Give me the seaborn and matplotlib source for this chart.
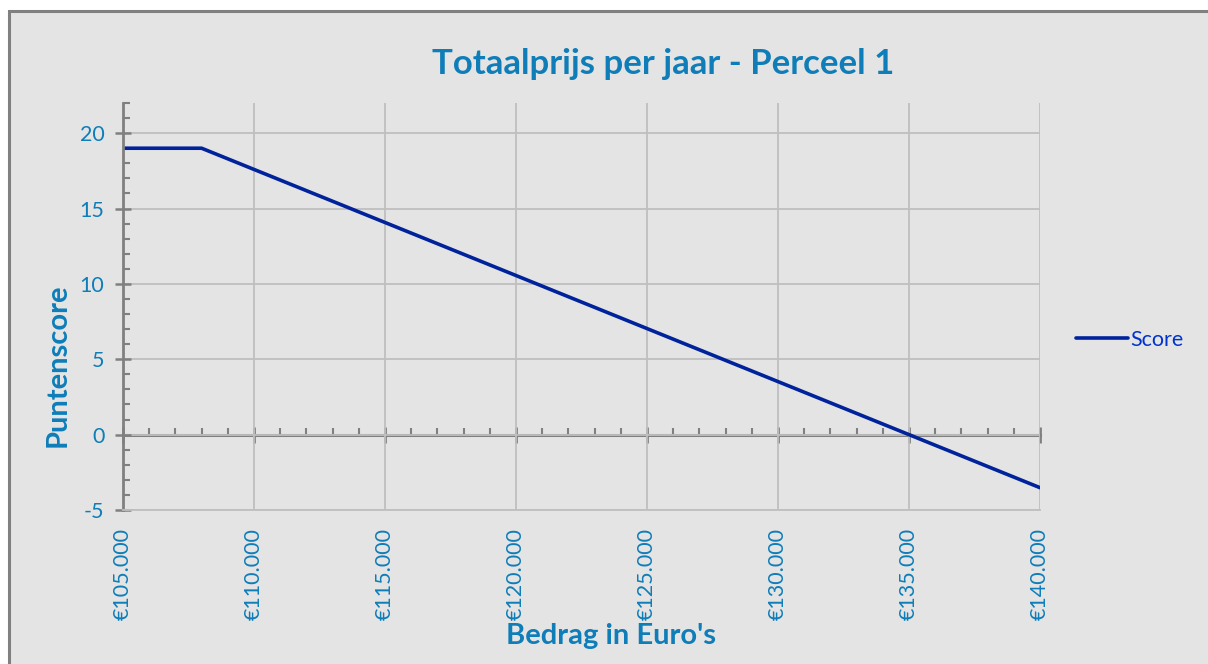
import matplotlib
matplotlib.use("Agg")
import matplotlib.pyplot as plt
import seaborn as sns
import pandas as pd
from matplotlib.patches import Rectangle
from matplotlib.ticker import MultipleLocator, FuncFormatter

amounts = [105000, 108000, 135000, 140000]
scores = [19, 19, 0, -3.52]
series_name = "Score"
title = "Totaalprijs per jaar - Perceel 1"
xlabel = "Bedrag in Euro's"
ylabel = "Puntenscore"

sns.set_style("white")
plt.rcParams['font.family'] = ['Lato', 'DejaVu Sans']
plt.rcParams['axes.unicode_minus'] = False

BG = "#E4E4E4"
BLUE_TXT = "#0E7DB8"
LINE = "#00239C"
AX_GRAY = "#808080"
GRID = "#BFBFBF"

fig = plt.figure(figsize=(12.08, 6.64), dpi=100)
fig.patch.set_facecolor("white")
fig.patches.append(Rectangle((9/1208, -0.1), 1.2, 1 - 11/664 + 0.1,
                             transform=fig.transFigure, facecolor=BG,
                             edgecolor=AX_GRAY, linewidth=2.2, zorder=-10))

ax = fig.add_axes([123/1208, 1 - 510/664, (1040 - 123)/1208, (510 - 103)/664])
ax.set_facecolor(BG)

df = pd.DataFrame({"Bedrag": amounts, "Score": scores})
sns.lineplot(data=df, x="Bedrag", y="Score", ax=ax, color=LINE, linewidth=2.6,
             label=series_name)

ax.set_xlim(105000, 140000)
ax.set_ylim(-5, 22)
ax.xaxis.set_major_locator(MultipleLocator(5000))
ax.set_yticks([-5, 0, 5, 10, 15, 20])
ax.yaxis.set_minor_locator(MultipleLocator(1))
ax.xaxis.set_major_formatter(FuncFormatter(lambda v, p: "€" + f"{int(v):,}".replace(",", ".")))
ax.grid(True, which="major", color=GRID, linewidth=1.3)
ax.set_axisbelow(True)

for s in ["top", "right"]:
    ax.spines[s].set_visible(False)
ax.spines["bottom"].set_color(GRID)
ax.spines["bottom"].set_linewidth(1.3)
ax.spines["left"].set_color(AX_GRAY)
ax.spines["left"].set_linewidth(2)

ax.tick_params(axis="x", which="both", bottom=False, length=0, pad=13, labelrotation=90,
               labelsize=15.5, labelcolor=BLUE_TXT)
ax.tick_params(axis="y", which="major", left=True, direction="inout", length=11, width=1.8,
               color=AX_GRAY, labelsize=15.5, labelcolor=BLUE_TXT, pad=8)
ax.tick_params(axis="y", which="minor", left=True, direction="in", length=5, width=1.5,
               color=AX_GRAY)

# zero axis with ticks
sec = ax.secondary_xaxis(5/27)
sec.xaxis.set_major_locator(MultipleLocator(5000))
sec.xaxis.set_minor_locator(MultipleLocator(1000))
sec.spines["bottom"].set_color(AX_GRAY)
sec.spines["bottom"].set_linewidth(2.2)
sec.tick_params(axis="x", which="major", bottom=True, direction="inout", length=12, width=2,
                color=AX_GRAY, labelbottom=False)
sec.tick_params(axis="x", which="minor", bottom=True, direction="in", length=5, width=1.5,
                color=AX_GRAY)
sec.set_xlabel("")

ax.set_xlabel("")
ax.set_ylabel("")
fig.text(611/1208, 1 - 636/664, xlabel, ha="center", va="center",
         fontsize=21, fontweight="bold", color=BLUE_TXT)
fig.text(58/1208, 1 - 365/664, ylabel, ha="center", va="center", rotation=90,
         fontsize=21, fontweight="bold", color=BLUE_TXT)
fig.text(663/1208, 1 - 64/664, title, ha="center", va="center",
         fontsize=25, fontweight="bold", color=BLUE_TXT)

leg = ax.legend(loc="center left", bbox_to_anchor=(1057/1208, 1 - 340/664),
                bbox_transform=fig.transFigure, frameon=False, fontsize=15.5,
                handlelength=2.4, handletextpad=0.1, labelcolor="#0033CC")

fig.savefig("out.png", dpi=100, facecolor=fig.get_facecolor())
